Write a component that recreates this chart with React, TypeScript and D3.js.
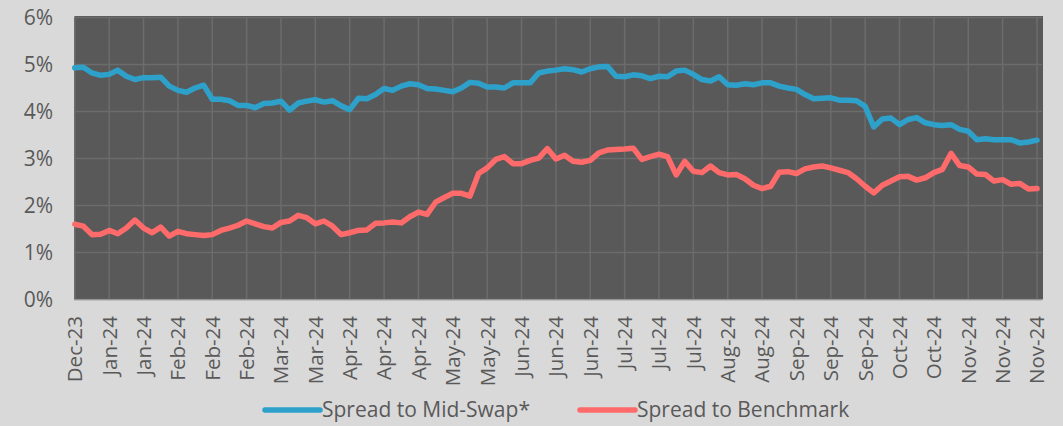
import React from "react";
import * as d3 from "d3";

const tickLabels = [
  "Dec-23", "Jan-24", "Jan-24", "Feb-24", "Feb-24", "Feb-24", "Mar-24", "Mar-24",
  "Apr-24", "Apr-24", "Apr-24", "May-24", "May-24", "Jun-24", "Jun-24", "Jun-24",
  "Jul-24", "Jul-24", "Jul-24", "Aug-24", "Aug-24", "Sep-24", "Sep-24", "Sep-24",
  "Oct-24", "Oct-24", "Nov-24", "Nov-24", "Nov-24",
];

// values in %, sampled at 4 points per label interval
const midSwap = [
  4.93, 4.94, 4.82, 4.77, 4.79, 4.88, 4.75, 4.68, 4.72, 4.72, 4.73, 4.54, 4.45, 4.41, 4.50, 4.56, 4.26, 4.26, 4.23, 4.13, 4.13, 4.08, 4.17,
  4.18, 4.22, 4.03, 4.18, 4.22, 4.25, 4.20, 4.23, 4.12, 4.04, 4.28, 4.27, 4.36, 4.49, 4.45, 4.54, 4.59, 4.57, 4.49, 4.48, 4.45, 4.42,
  4.50, 4.62, 4.60, 4.52, 4.52, 4.50, 4.61, 4.61, 4.61, 4.82, 4.86, 4.88, 4.91, 4.89, 4.84, 4.91, 4.95, 4.96, 4.75, 4.74, 4.78, 4.76, 4.70,
  4.75, 4.74, 4.86, 4.88, 4.79, 4.68, 4.65, 4.74, 4.57, 4.56, 4.59, 4.57, 4.61, 4.61, 4.54, 4.50, 4.47, 4.36, 4.27, 4.28, 4.29, 4.24, 4.24,
  4.23, 4.11, 3.67, 3.84, 3.86, 3.72, 3.83, 3.87, 3.76, 3.72, 3.70, 3.72, 3.62, 3.58, 3.40, 3.42, 3.40, 3.40, 3.40, 3.33, 3.35, 3.39,
];

const benchmark = [
  1.60, 1.56, 1.38, 1.39, 1.47, 1.40, 1.52, 1.69, 1.52, 1.42, 1.54, 1.35, 1.45, 1.40, 1.38, 1.36, 1.38, 1.47, 1.52, 1.58, 1.67, 1.61, 1.55,
  1.52, 1.64, 1.67, 1.79, 1.74, 1.61, 1.67, 1.56, 1.38, 1.42, 1.47, 1.48, 1.62, 1.63, 1.65, 1.63, 1.76, 1.86, 1.81, 2.07, 2.17, 2.26,
  2.26, 2.20, 2.68, 2.80, 2.98, 3.04, 2.89, 2.89, 2.96, 3.01, 3.21, 2.99, 3.07, 2.94, 2.92, 2.96, 3.12, 3.18, 3.19, 3.20, 3.22, 2.98, 3.04,
  3.09, 3.04, 2.65, 2.94, 2.73, 2.70, 2.84, 2.70, 2.65, 2.66, 2.57, 2.43, 2.36, 2.41, 2.71, 2.72, 2.68, 2.78, 2.82, 2.84, 2.80, 2.75, 2.70,
  2.57, 2.41, 2.27, 2.43, 2.52, 2.61, 2.62, 2.54, 2.59, 2.70, 2.77, 3.11, 2.85, 2.82, 2.67, 2.66, 2.52, 2.55, 2.45, 2.47, 2.35, 2.36,
];

const yTicks = [0, 1, 2, 3, 4, 5, 6];

const seriesNames = ["Spread to Mid-Swap*", "Spread to Benchmark"];
const seriesColors = ["#2ea1cb", "#ff6b6b"];

const W = 1063;
const H = 426;
const FONT = "'Open Sans', sans-serif";
const TEXT = "#595959";

export default function App() {
  const left = 74.5;
  const right = 1043;
  const top = 17.5;
  const bottom = 299.5;
  const perTick = 4;
  const x = d3.scaleLinear().domain([0, 112.7]).range([74.8, right]);
  const y = d3.scaleLinear().domain([0, 6]).range([bottom, top]);
  const line = d3
    .line<number>()
    .x((_, i) => x(i))
    .y((d) => y(d))
    .curve(d3.curveLinear);

  const series = [midSwap, benchmark];
  const legendX = [265, 580];

  return (
    <svg
      width={W}
      height={H}
      style={{ position: "absolute", left: 0, top: 0, display: "block" }}
      fontFamily={FONT}
    >
      <rect x={0} y={0} width={W} height={H} fill="#d9d9d9" />
      <rect x={left} y={top - 1.5} width={right - left} height={bottom - top + 1.5} fill="#595959" />
      {yTicks.map((t) => (
        <line
          key={"hg" + t}
          x1={left}
          x2={right - 1}
          y1={y(t)}
          y2={y(t)}
          stroke="#6c6c6c"
          strokeWidth={1.5}
        />
      ))}
      {tickLabels.map((_, k) => (
        <line
          key={"vg" + k}
          x1={x(k * perTick)}
          x2={x(k * perTick)}
          y1={top}
          y2={bottom}
          stroke="#6c6c6c"
          strokeWidth={1.5}
        />
      ))}
      <line x1={left} x2={right} y1={bottom + 0.5} y2={bottom + 0.5} stroke="#bfbfbf" strokeWidth={1} />
      {series.map((s, i) => (
        <path
          key={"s" + i}
          d={line(s) || ""}
          fill="none"
          stroke={seriesColors[i]}
          strokeWidth={5.5}
          strokeLinejoin="round"
          strokeLinecap="round"
        />
      ))}
      {yTicks.map((t) => (
        <text
          key={"yl" + t}
          x={53}
          y={y(t)}
          dy="0.36em"
          textAnchor="end"
          fontSize={21}
          fill={TEXT}
        >
          {d3.format(".0%")(t / 100)}
        </text>
      ))}
      {tickLabels.map((lab, k) => (
        <text
          key={"xl" + k}
          transform={`translate(${x(k * perTick)},316) rotate(-90)`}
          dy="0.36em"
          textAnchor="end"
          fontSize={20.5}
          fill={TEXT}
        >
          {lab}
        </text>
      ))}
      {seriesNames.map((name, i) => (
        <g key={"lg" + i}>
          <line
            x1={legendX[i]}
            x2={legendX[i] + 55}
            y1={410}
            y2={410}
            stroke={seriesColors[i]}
            strokeWidth={5.5}
            strokeLinecap="round"
          />
          <text x={legendX[i] + 57} y={417} fontSize={21} fill={TEXT}>
            {name}
          </text>
        </g>
      ))}
    </svg>
  );
}
